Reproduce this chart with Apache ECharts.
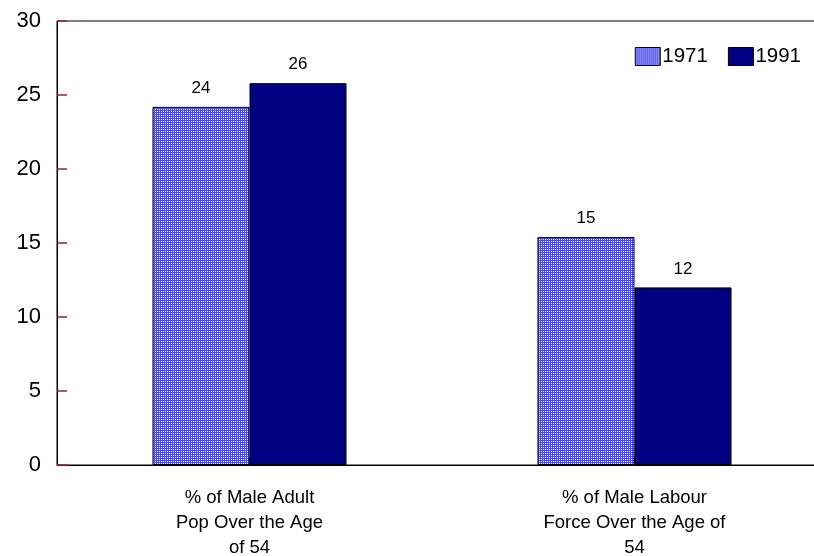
<!DOCTYPE html>
<html><head><meta charset="utf-8">
<script src="https://cdn.jsdelivr.net/npm/echarts@6/dist/echarts.min.js"></script>
<style>html,body{margin:0;padding:0;background:#fff}#c{width:814px;height:556px}</style>
</head><body><div id="c"></div>
<script>
const categories = ['% of Male Adult\nPop Over the Age\nof 54', '% of Male Labour\nForce Over the Age of\n54'];
const series1971 = [24.2, 15.4];
const series1991 = [25.8, 12.0];
const yTicks = [0, 5, 10, 15, 20, 25, 30];

const pc = document.createElement('canvas');
pc.width = 2; pc.height = 2;
const ctx = pc.getContext('2d');
ctx.fillStyle = '#4646ff'; ctx.fillRect(0,0,2,2);
ctx.fillStyle = '#ffffff'; ctx.fillRect(1,1,1,1);
const pattern = {image: pc, repeat: 'repeat'};

const chart = echarts.init(document.getElementById('c'));
const font = 'Liberation Sans, Arial, sans-serif';
chart.setOption({
  animation: false,
  grid: {left: 57, right: -13, top: 21, bottom: 91, outerBoundsMode: 'none', containLabel: false,
         show: true, borderColor: '#000', borderWidth: 1, backgroundColor: 'transparent'},
  legend: {
    right: 8, top: 41, itemWidth: 25, itemHeight: 18, itemGap: 20, icon: 'rect',
    textStyle: {fontFamily: font, fontSize: 20.5, color: '#000', padding: [0,0,0,-3]},
    data: [{name: '1971', icon: 'rect', itemStyle: {color: pattern, borderColor: '#000', borderWidth: 1}},
           {name: '1991', icon: 'rect', itemStyle: {color: '#000080', borderColor: '#000', borderWidth: 1}}]
  },
  xAxis: {
    type: 'category', data: categories,
    axisLine: {lineStyle: {color: '#000', width: 1}},
    axisTick: {show: true, inside: true, alignWithLabel: true, length: 8, lineStyle: {color: '#a02020'}},
    axisLabel: {fontFamily: font, fontSize: 18.5, color: '#000', lineHeight: 25, margin: 20, interval: 0}
  },
  yAxis: {
    type: 'value', min: 0, max: 30, interval: 5,
    splitLine: {show: false},
    axisLine: {show: true, lineStyle: {color: '#000', width: 1}},
    axisTick: {show: true, inside: true, length: 10, lineStyle: {color: '#a02020', width: 1.5}},
    axisLabel: {fontFamily: font, fontSize: 22, color: '#000', margin: 16,
      formatter: v => yTicks.includes(v) ? String(v) : ''}
  },
  series: [
    {name: '1971', type: 'bar', data: series1971, barWidth: '25.2%', barGap: '0%',
     itemStyle: {color: pattern, borderColor: '#000', borderWidth: 1},
     label: {show: true, position: 'top', distance: 10, fontFamily: font, fontSize: 17, color: '#000', formatter: p => Math.round(p.value)}},
    {name: '1991', type: 'bar', data: series1991, barWidth: '25.2%', barGap: '0%',
     itemStyle: {color: '#000080', borderColor: '#000', borderWidth: 1},
     label: {show: true, position: 'top', distance: 10, fontFamily: font, fontSize: 17, color: '#000', formatter: p => Math.round(p.value)}}
  ]
});
</script></body></html>
